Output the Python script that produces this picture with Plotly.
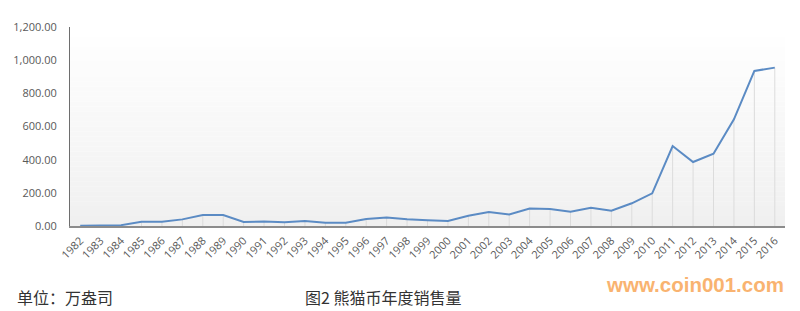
import plotly.graph_objects as go

years = [str(y) for y in range(1982, 2017)]
sales = [2, 5, 5, 25, 25, 40, 66, 66, 24, 27, 23, 30, 19, 19, 42, 52, 40, 34, 30, 62,
         84, 70, 106, 102, 86, 110, 92, 137, 197, 482, 386, 436, 643, 935, 955]
y_ticks = [0, 200, 400, 600, 800, 1000, 1200]

unit_text = "单位：万盎司"
title_text = "图2 熊猫币年度销售量"
watermark = "www.coin001.com"

W, H = 800, 311
L, R, T, B = 70, 15, 27, 85
pw, ph = W - L - R, H - T - B

fig = go.Figure()
fig.add_trace(go.Scatter(
    x=years, y=sales, mode="lines",
    line=dict(color="#5b8bc4", width=2),
    error_y=dict(type="data", symmetric=False, array=[0] * len(sales),
                 arrayminus=sales, color="#dcdcdc", thickness=1, width=0),
    hoverinfo="x+y", showlegend=False,
))

# gradient background (white at top -> light gray at bottom)
n = 40
shapes = []
for i in range(n):
    f = i / (n - 1)
    g = int(round(255 - (255 - 240) * f))
    shapes.append(dict(type="rect", xref="paper", yref="paper",
                       x0=0, x1=1, y0=1 - (i + 1) / n, y1=1 - i / n,
                       fillcolor=f"rgb({g},{g},{g})", line=dict(width=0),
                       layer="below"))

def px(xp):
    return (xp - L) / pw

def py(yp):
    return (H - B - yp) / ph

annotations = [
    dict(text=unit_text, x=px(15), y=py(297), xref="paper", yref="paper",
         xanchor="left", yanchor="middle", showarrow=False,
         font=dict(family="Noto Sans CJK SC", size=16, color="#333333")),
    dict(text=title_text, x=px(303), y=py(297), xref="paper", yref="paper",
         xanchor="left", yanchor="middle", showarrow=False,
         font=dict(family="Noto Sans CJK SC", size=16, color="#333333")),
    dict(text="<b>" + watermark + "</b>", x=px(604), y=py(284), xref="paper", yref="paper",
         xanchor="left", yanchor="middle", showarrow=False,
         font=dict(family="Liberation Sans", size=20.5, color="#f9b370")),
]

fig.update_layout(
    width=W, height=H,
    margin=dict(l=L, r=R, t=T, b=B),
    paper_bgcolor="white", plot_bgcolor="white",
    shapes=shapes, annotations=annotations,
    font=dict(family="Open Sans", color="#595959"),
    xaxis=dict(type="category", range=[-0.5, len(years) - 0.5],
               tickangle=-45, tickfont=dict(size=11, color="#595959"),
               showgrid=False, zeroline=False,
               showline=True, linecolor="#8c8c8c", linewidth=2,
               ticks="", ticklabelstandoff=2, fixedrange=True),
    yaxis=dict(range=[0, 1200], tickvals=y_ticks, tickformat=",.2f",
               tickfont=dict(size=11, color="#595959"),
               showgrid=False, zeroline=False,
               showline=True, linecolor="#6e6e6e", linewidth=1,
               ticks="", ticklabelstandoff=10, fixedrange=True),
)

fig.write_html("out.html")
